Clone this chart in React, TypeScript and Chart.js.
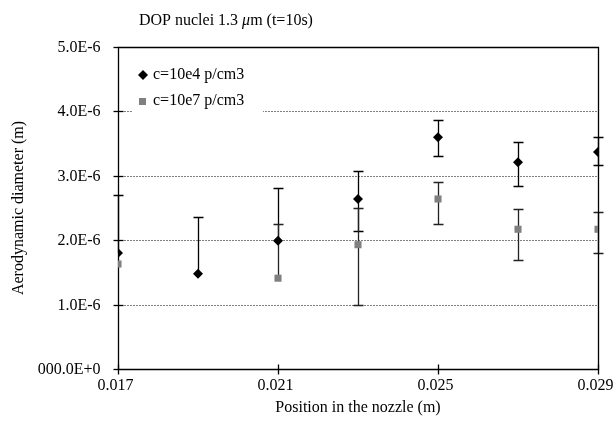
import React, { useEffect, useRef } from "react";
import { Chart, registerables } from "chart.js";

Chart.register(...registerables);

const xPositions = [0.017, 0.019, 0.021, 0.023, 0.025, 0.027, 0.029];

const s1Label = "c=10e4 p/cm3";
const s1Values = [1.8e-6, 1.48e-6, 1.99e-6, 2.64e-6, 3.6e-6, 3.21e-6, 3.37e-6];
const s1Upper = [2.7e-6, 2.36e-6, 2.81e-6, 3.07e-6, 3.87e-6, 3.52e-6, 3.6e-6];
const s1Lower = [null, null, null, 2.14e-6, 3.31e-6, 2.84e-6, 3.17e-6];

const s2Label = "c=10e7 p/cm3";
const s2Values = [1.63e-6, null, 1.41e-6, 1.93e-6, 2.64e-6, 2.17e-6, 2.17e-6];
const s2Upper = [null, null, 2.25e-6, 2.5e-6, 2.91e-6, 2.48e-6, 2.44e-6];
const s2Lower = [null, null, null, 0.99e-6, 2.25e-6, 1.69e-6, 1.8e-6];

const xMin = 0.017;
const xMax = 0.029;
const yMin = 0;
const yMax = 5e-6;
const xTickValues = [0.017, 0.021, 0.025, 0.029];
const xTickLabels = ["0.017", "0.021", "0.025", "0.029"];
const yTickValues = [0, 1e-6, 2e-6, 3e-6, 4e-6, 5e-6];
const yTickLabels = ["000.0E+0", "1.0E-6", "2.0E-6", "3.0E-6", "4.0E-6", "5.0E-6"];

const FONT = "'Liberation Serif', 'DejaVu Serif', serif";
const S1_COLOR = "#000000";
const S2_COLOR = "#808080";

const errorSets = [
  { upper: s1Upper, lower: s1Lower, values: s1Values, color: "#000000" },
  { upper: s2Upper, lower: s2Lower, values: s2Values, color: "#222222" },
];

const decorPlugin = {
  id: "decor",
  beforeDatasetsDraw(chart: any) {
    const { ctx } = chart;
    const xs = chart.scales.x;
    const ys = chart.scales.y;
    const L = Math.round(xs.getPixelForValue(xMin)) + 0.5;
    const R = Math.round(xs.getPixelForValue(xMax)) + 0.5;
    const T = Math.round(ys.getPixelForValue(yMax)) + 0.5;
    const B = Math.round(ys.getPixelForValue(yMin)) + 0.5;
    ctx.save();
    // dotted gridlines
    ctx.strokeStyle = "#000000";
    ctx.lineWidth = 1;
    ctx.setLineDash([1, 2]);
    yTickValues.forEach((v) => {
      if (v === yMin || v === yMax) return;
      const y = Math.round(ys.getPixelForValue(v)) + 0.5;
      ctx.beginPath();
      ctx.moveTo(L, y);
      ctx.lineTo(R, y);
      ctx.stroke();
    });
    ctx.setLineDash([]);
    // error bars
    errorSets.forEach((es) => {
      ctx.strokeStyle = es.color;
      ctx.lineWidth = 1.3;
      xPositions.forEach((xv, j) => {
        const val = es.values[j];
        if (val == null) return;
        const px = Math.round(xs.getPixelForValue(xv)) + 0.5;
        const py = ys.getPixelForValue(val);
        [es.upper[j], es.lower[j]].forEach((e) => {
          if (e == null) return;
          const ey = Math.round(ys.getPixelForValue(e)) + 0.5;
          ctx.beginPath();
          ctx.moveTo(px, py);
          ctx.lineTo(px, ey);
          ctx.moveTo(px - 5, ey);
          ctx.lineTo(px + 5, ey);
          ctx.stroke();
        });
      });
    });
    // frame
    ctx.strokeStyle = "#000000";
    ctx.lineWidth = 1.3;
    ctx.beginPath();
    ctx.rect(L, T, R - L, B - T);
    ctx.stroke();
    // y ticks and labels
    ctx.fillStyle = "#000000";
    ctx.font = `16px ${FONT}`;
    ctx.textAlign = "right";
    ctx.textBaseline = "middle";
    yTickValues.forEach((v, i) => {
      const y = Math.round(ys.getPixelForValue(v)) + 0.5;
      ctx.beginPath();
      ctx.moveTo(L - 5, y);
      ctx.lineTo(v === yMax || v === yMin ? L : L + 5, y);
      ctx.stroke();
      ctx.fillText(yTickLabels[i], L - 18, y);
    });
    // x ticks and labels
    ctx.textAlign = "center";
    xTickValues.forEach((v, i) => {
      const x = Math.round(xs.getPixelForValue(v)) + 0.5;
      ctx.beginPath();
      ctx.moveTo(x, B - 5);
      ctx.lineTo(x, B + 5);
      ctx.stroke();
      ctx.fillText(xTickLabels[i], x - 3, B + 16);
    });
    ctx.restore();
  },
  afterDraw(chart: any) {
    const { ctx } = chart;
    const xs = chart.scales.x;
    const ys = chart.scales.y;
    const cx = (xs.getPixelForValue(xMin) + xs.getPixelForValue(xMax)) / 2;
    const cy = (ys.getPixelForValue(yMin) + ys.getPixelForValue(yMax)) / 2;
    ctx.save();
    // legend
    ctx.fillStyle = "#ffffff";
    ctx.fillRect(133, 58, 130, 57);
    ctx.fillStyle = S1_COLOR;
    ctx.beginPath();
    ctx.moveTo(143 - 5, 75);
    ctx.lineTo(143, 70);
    ctx.lineTo(143 + 5, 75);
    ctx.lineTo(143, 80);
    ctx.closePath();
    ctx.fill();
    ctx.fillStyle = S2_COLOR;
    ctx.fillRect(139, 98, 7, 7);
    ctx.fillStyle = "#000000";
    ctx.font = `16px ${FONT}`;
    ctx.textBaseline = "middle";
    ctx.textAlign = "left";
    ctx.fillText(s1Label, 153, 75);
    ctx.fillText(s2Label, 153, 101);
    // title
    ctx.textBaseline = "alphabetic";
    let x = 139;
    const parts = [
      { t: "DOP nuclei 1.3 ", italic: false },
      { t: "\u03bc", italic: true },
      { t: "m (t=10s)", italic: false },
    ];
    parts.forEach((p) => {
      ctx.font = `${p.italic ? "italic " : ""}16px ${FONT}`;
      ctx.fillText(p.t, x, 25);
      x += ctx.measureText(p.t).width;
    });
    // axis titles
    ctx.font = `16px ${FONT}`;
    ctx.textAlign = "center";
    ctx.textBaseline = "middle";
    ctx.fillText("Position in the nozzle (m)", cx, 408);
    ctx.translate(19, cy);
    ctx.rotate(-Math.PI / 2);
    ctx.fillText("Aerodynamic diameter (m)", 0, 0);
    ctx.restore();
  },
};

export default function App() {
  const ref = useRef<HTMLCanvasElement | null>(null);
  useEffect(() => {
    if (!ref.current) return;
    const mk = (vals: (number | null)[]) =>
      xPositions
        .map((x, i) => ({ x, y: vals[i] }))
        .filter((p) => p.y != null);
    const chart = new Chart(ref.current, {
      type: "scatter",
      data: {
        datasets: [
          {
            label: s1Label,
            data: mk(s1Values) as any,
            pointStyle: "rectRot",
            pointRadius: 5,
            backgroundColor: S1_COLOR,
            borderColor: S1_COLOR,
            borderWidth: 0,
          },
          {
            label: s2Label,
            data: mk(s2Values) as any,
            pointStyle: "rect",
            pointRadius: 5,
            backgroundColor: S2_COLOR,
            borderColor: S2_COLOR,
            borderWidth: 0,
          },
        ],
      },
      options: {
        animation: false,
        responsive: false,
        layout: { padding: { top: 47, right: 17, left: 0, bottom: 0 } },
        plugins: { legend: { display: false }, tooltip: { enabled: false }, title: { display: false } },
        scales: {
          x: {
            type: "linear",
            min: xMin,
            max: xMax,
            afterBuildTicks: (s: any) => {
              s.ticks = xTickValues.map((v) => ({ value: v }));
            },
            afterFit: (s: any) => {
              s.height = 59;
            },
            grid: { display: false },
            border: { display: false },
            ticks: { display: false },
          },
          y: {
            type: "linear",
            min: yMin,
            max: yMax,
            afterBuildTicks: (s: any) => {
              s.ticks = yTickValues.map((v) => ({ value: v }));
            },
            afterFit: (s: any) => {
              s.width = 118;
            },
            grid: { display: false },
            border: { display: false },
            ticks: { display: false },
          },
        },
      },
      plugins: [decorPlugin],
    });
    return () => chart.destroy();
  }, []);
  return (
    <div style={{ position: "absolute", left: 0, top: 0, width: 615, height: 428, background: "#fff" }}>
      <canvas ref={ref} width={615} height={428} />
    </div>
  );
}
